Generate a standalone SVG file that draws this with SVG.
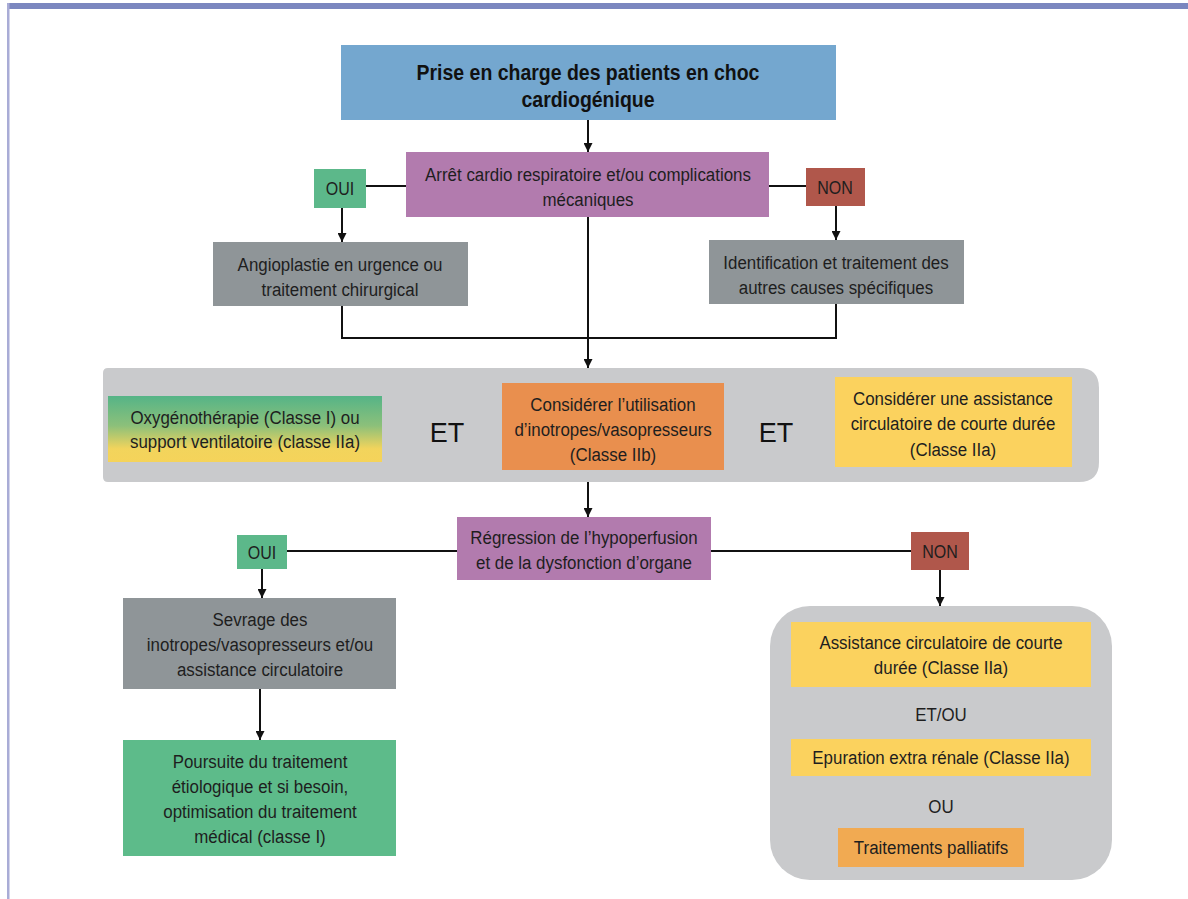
<svg xmlns="http://www.w3.org/2000/svg" width="1188" height="899" viewBox="0 0 1188 899">
  <defs>
    <linearGradient id="o2grad" x1="0" y1="0" x2="0" y2="1">
      <stop offset="0" stop-color="#55b487"/>
      <stop offset="0.45" stop-color="#8cc07a"/>
      <stop offset="0.8" stop-color="#f2d45c"/>
      <stop offset="1" stop-color="#f5d35a"/>
    </linearGradient>
    <marker id="arr" viewBox="0 0 10 10" refX="10" refY="5" markerWidth="9" markerHeight="9" markerUnits="userSpaceOnUse" orient="auto">
      <path d="M0,0 L10,5 L0,10 z" fill="#111"/>
    </marker>
  </defs>
  <style>
    text { font-family: "Liberation Sans", Arial, sans-serif; font-size: 19px; fill: #1e1e1e; text-anchor: middle; }
    .title { font-size: 22px; font-weight: bold; fill: #111; }
    .big { font-size: 27px; fill: #111; }
    .lbl { font-size: 18px; }
    .conn { stroke: #111; stroke-width: 2; fill: none; }
  </style>

  <rect x="0" y="0" width="1188" height="899" fill="#ffffff"/>
  <!-- page frame -->
  <rect x="7" y="3" width="1181" height="6" fill="#7b87bf"/>
  <rect x="7" y="3" width="2.5" height="896" fill="#a9acd6"/>

  <!-- background panels -->
  <path d="M108,368 H1079 Q1099,368 1099,388 V462 Q1099,482 1079,482 H108 Q103,482 103,477 V373 Q103,368 108,368 Z" fill="#c9cacc"/>
  <rect x="770" y="606" width="342" height="274" rx="40" ry="40" fill="#c9cacc"/>

  <!-- connectors -->
  <g id="connectors">
    <line class="conn" x1="588" y1="120" x2="588" y2="152" marker-end="url(#arr)"/>
    <line class="conn" x1="366" y1="186" x2="406" y2="186"/>
    <line class="conn" x1="769" y1="186" x2="806" y2="186"/>
    <line class="conn" x1="342" y1="208" x2="342" y2="242" marker-end="url(#arr)"/>
    <line class="conn" x1="836" y1="206" x2="836" y2="240" marker-end="url(#arr)"/>
    <polyline class="conn" points="342,306 342,338 836,338 836,304"/>
    <line class="conn" x1="588" y1="217" x2="588" y2="368" marker-end="url(#arr)"/>
    <line class="conn" x1="588" y1="482" x2="588" y2="517" marker-end="url(#arr)"/>
    <line class="conn" x1="287" y1="551" x2="457" y2="551"/>
    <line class="conn" x1="711" y1="551" x2="911" y2="551"/>
    <line class="conn" x1="262" y1="569" x2="262" y2="598" marker-end="url(#arr)"/>
    <line class="conn" x1="260" y1="689" x2="260" y2="740" marker-end="url(#arr)"/>
    <line class="conn" x1="940" y1="570" x2="940" y2="606" marker-end="url(#arr)"/>
  </g>

  <!-- text blocks are condensed horizontally around their centre line -->
  <g id="title">
    <rect x="341" y="45" width="495" height="75" fill="#74a7cf"/>
    <g transform="translate(588 0) scale(0.885 1)">
      <text class="title" x="0" y="80">Prise en charge des patients en choc</text>
      <text class="title" x="0" y="107">cardiogénique</text>
    </g>
  </g>

  <g id="arret">
    <rect x="406" y="152" width="363" height="65" fill="#b27bae"/>
    <g transform="translate(588 0) scale(0.89 1)">
      <text x="0" y="181">Arrêt cardio respiratoire et/ou complications</text>
      <text x="0" y="206">mécaniques</text>
    </g>
  </g>

  <g id="oui1">
    <rect x="314" y="169" width="52" height="39" fill="#5cb88a"/>
    <g transform="translate(340 0) scale(0.89 1)">
      <text class="lbl" x="0" y="195">OUI</text>
    </g>
  </g>

  <g id="non1">
    <rect x="806" y="168" width="59" height="38" fill="#b0574b"/>
    <g transform="translate(835 0) scale(0.89 1)">
      <text class="lbl" x="0" y="194">NON</text>
    </g>
  </g>

  <g id="angioplastie">
    <rect x="213" y="242" width="255" height="64" fill="#8f9598"/>
    <g transform="translate(340 0) scale(0.89 1)">
      <text x="0" y="271">Angioplastie en urgence ou</text>
      <text x="0" y="296">traitement chirurgical</text>
    </g>
  </g>

  <g id="identification">
    <rect x="709" y="240" width="255" height="64" fill="#8f9598"/>
    <g transform="translate(836 0) scale(0.89 1)">
      <text x="0" y="269">Identification et traitement des</text>
      <text x="0" y="294">autres causes spécifiques</text>
    </g>
  </g>

  <g id="oxygene">
    <rect x="108" y="396" width="274" height="66" fill="url(#o2grad)"/>
    <g transform="translate(245 0) scale(0.89 1)">
      <text x="0" y="424">Oxygénothérapie (Classe I) ou</text>
      <text x="0" y="448">support ventilatoire (classe IIa)</text>
    </g>
  </g>

  <text class="big" x="447" y="442">ET</text>

  <g id="inotropes">
    <rect x="502" y="383" width="222" height="87" fill="#e98f4e"/>
    <g transform="translate(613 0) scale(0.89 1)">
      <text x="0" y="411">Considérer l’utilisation</text>
      <text x="0" y="436">d’inotropes/vasopresseurs</text>
      <text x="0" y="461">(Classe IIb)</text>
    </g>
  </g>

  <text class="big" x="776" y="442">ET</text>

  <g id="assistance">
    <rect x="835" y="377" width="237" height="90" fill="#fbd25e"/>
    <g transform="translate(953 0) scale(0.89 1)">
      <text x="0" y="405">Considérer une assistance</text>
      <text x="0" y="430">circulatoire de courte durée</text>
      <text x="0" y="456">(Classe IIa)</text>
    </g>
  </g>

  <g id="regression">
    <rect x="457" y="517" width="254" height="63" fill="#b27bae"/>
    <g transform="translate(584 0) scale(0.89 1)">
      <text x="0" y="544">Régression de l’hypoperfusion</text>
      <text x="0" y="569">et de la dysfonction d’organe</text>
    </g>
  </g>

  <g id="oui2">
    <rect x="237" y="535" width="50" height="34" fill="#5cb88a"/>
    <g transform="translate(262 0) scale(0.89 1)">
      <text class="lbl" x="0" y="559">OUI</text>
    </g>
  </g>

  <g id="non2">
    <rect x="911" y="532" width="58" height="38" fill="#b0574b"/>
    <g transform="translate(940 0) scale(0.89 1)">
      <text class="lbl" x="0" y="558">NON</text>
    </g>
  </g>

  <g id="sevrage">
    <rect x="123" y="598" width="273" height="91" fill="#8f9598"/>
    <g transform="translate(260 0) scale(0.89 1)">
      <text x="0" y="626">Sevrage des</text>
      <text x="0" y="651">inotropes/vasopresseurs et/ou</text>
      <text x="0" y="676">assistance circulatoire</text>
    </g>
  </g>

  <g id="poursuite">
    <rect x="123" y="740" width="273" height="116" fill="#5dbb8a"/>
    <g transform="translate(260 0) scale(0.89 1)">
      <text x="0" y="768">Poursuite du traitement</text>
      <text x="0" y="793">étiologique et si besoin,</text>
      <text x="0" y="818">optimisation du traitement</text>
      <text x="0" y="843">médical (classe I)</text>
    </g>
  </g>

  <g id="assistance-courte">
    <rect x="791" y="622" width="300" height="65" fill="#fbd25e"/>
    <g transform="translate(941 0) scale(0.89 1)">
      <text x="0" y="649">Assistance circulatoire de courte</text>
      <text x="0" y="674">durée (Classe IIa)</text>
    </g>
  </g>

  <g transform="translate(941 0) scale(0.89 1)">
    <text x="0" y="721">ET/OU</text>
  </g>

  <g id="epuration">
    <rect x="791" y="739" width="300" height="37" fill="#fbd25e"/>
    <g transform="translate(941 0) scale(0.89 1)">
      <text x="0" y="764">Epuration extra rénale (Classe IIa)</text>
    </g>
  </g>

  <g transform="translate(941 0) scale(0.89 1)">
    <text x="0" y="813">OU</text>
  </g>

  <g id="palliatifs">
    <rect x="838" y="828" width="186" height="39" fill="#f1aa52"/>
    <g transform="translate(931 0) scale(0.89 1)">
      <text x="0" y="854">Traitements palliatifs</text>
    </g>
  </g>
</svg>
